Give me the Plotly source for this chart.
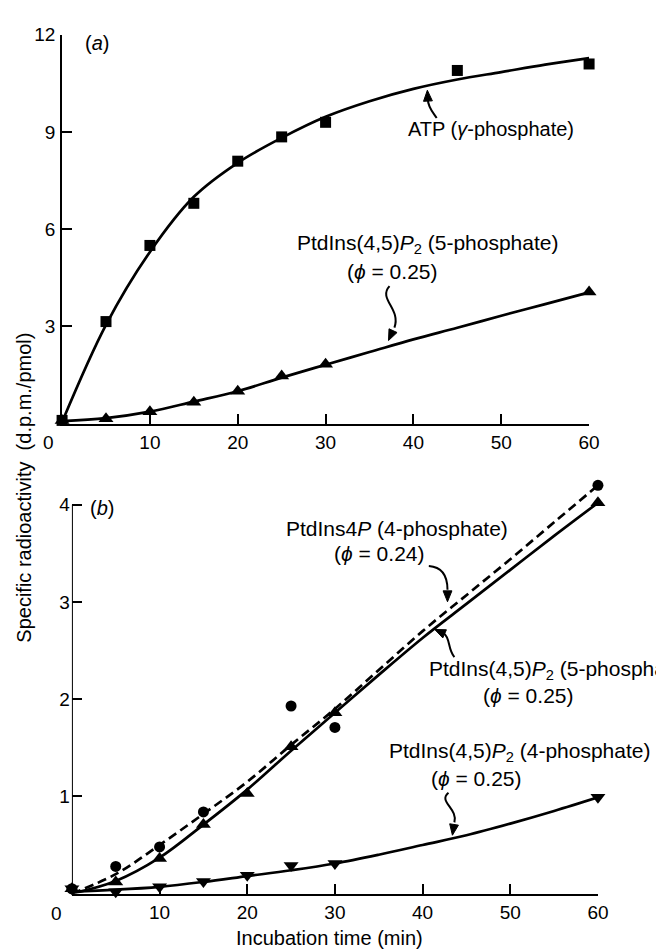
import math
import plotly.graph_objects as go

# ---------------- data ----------------
# Panel (a)
time_atp = [0, 5, 10, 15, 20, 25, 30, 45, 60]
atp_gamma = [0.1, 3.15, 5.5, 6.8, 8.1, 8.85, 9.3, 10.9, 11.1]
time_pip2_a = [0, 5, 10, 15, 20, 25, 30, 60]
pip2_5p_a = [0.1, 0.15, 0.37, 0.66, 1.0, 1.47, 1.83, 4.06]

# fitted curves (read at 5-min steps)
fit_time = [0, 5, 10, 15, 20, 25, 30, 35, 40, 45, 50, 55, 60]
atp_fit = [0.05, 3.05, 5.3, 7.0, 8.05, 8.82, 9.47, 9.95, 10.33, 10.62, 10.85, 11.08, 11.28]
pip2_5p_a_fit = [0.08, 0.17, 0.37, 0.68, 1.0, 1.42, 1.82, 2.21, 2.6, 2.96, 3.33, 3.69, 4.05]

# Panel (b)
time_pip4p = [0, 5, 10, 15, 25, 30, 60]
pip4p = [0.05, 0.28, 0.48, 0.84, 1.93, 1.71, 4.2]
time_b = [0, 5, 10, 15, 20, 25, 30, 60]
pip2_5p_b = [0.05, 0.12, 0.36, 0.71, 1.03, 1.51, 1.86, 4.02]
pip2_4p_b = [0.05, 0.02, 0.07, 0.125, 0.19, 0.29, 0.31, 0.99]

pip4p_fit = [0.0, 0.2, 0.5, 0.82, 1.15, 1.53, 1.9, 2.3, 2.7, 3.07, 3.44, 3.82, 4.2]
pip2_5p_b_fit = [0.0, 0.13, 0.37, 0.71, 1.07, 1.47, 1.86, 2.25, 2.63, 2.98, 3.33, 3.68, 4.02]
pip2_4p_b_fit = [0.02, 0.04, 0.07, 0.12, 0.18, 0.24, 0.31, 0.4, 0.5, 0.6, 0.72, 0.85, 0.99]

x_ticks = [10, 20, 30, 40, 50, 60]
y_ticks_a = [3, 6, 9, 12]
y_ticks_b = [1, 2, 3, 4]

# ---------------- layout geometry ----------------
# page body has an 8px margin, so the figure is drawn 8px in from the corner
OFF = 8
W, H = 664 - OFF, 950 - OFF
FONT = "Liberation Sans, Arial, Helvetica, sans-serif"


def px(x):
    return (x - OFF) / W


def py(y):
    return 1 - (y - OFF) / H


fig = go.Figure()

LW = 2.7
line_solid = dict(color="black", width=LW, shape="spline", smoothing=1.0)

# panel (a) curves
fig.add_trace(go.Scatter(x=fit_time, y=atp_fit, mode="lines", line=line_solid,
                         xaxis="x", yaxis="y", hoverinfo="skip"))
fig.add_trace(go.Scatter(x=fit_time, y=pip2_5p_a_fit, mode="lines", line=line_solid,
                         xaxis="x", yaxis="y", hoverinfo="skip"))
fig.add_trace(go.Scatter(x=time_atp, y=atp_gamma, mode="markers",
                         marker=dict(symbol="square", size=11, color="black"),
                         xaxis="x", yaxis="y", cliponaxis=False))
fig.add_trace(go.Scatter(x=time_pip2_a, y=pip2_5p_a, mode="markers",
                         marker=dict(symbol="triangle-up", size=13, color="black"),
                         xaxis="x", yaxis="y", cliponaxis=False))

# panel (b) curves
fig.add_trace(go.Scatter(x=fit_time, y=pip4p_fit, mode="lines",
                         line=dict(color="black", width=LW, dash="9px,5px", shape="spline"),
                         xaxis="x2", yaxis="y2", hoverinfo="skip"))
fig.add_trace(go.Scatter(x=fit_time, y=pip2_5p_b_fit, mode="lines", line=line_solid,
                         xaxis="x2", yaxis="y2", hoverinfo="skip"))
fig.add_trace(go.Scatter(x=fit_time, y=pip2_4p_b_fit, mode="lines", line=line_solid,
                         xaxis="x2", yaxis="y2", hoverinfo="skip"))
fig.add_trace(go.Scatter(x=time_pip4p, y=pip4p, mode="markers",
                         marker=dict(symbol="circle", size=11, color="black"),
                         xaxis="x2", yaxis="y2", cliponaxis=False))
fig.add_trace(go.Scatter(x=time_b, y=pip2_5p_b, mode="markers",
                         marker=dict(symbol="triangle-up", size=13, color="black"),
                         xaxis="x2", yaxis="y2", cliponaxis=False))
fig.add_trace(go.Scatter(x=time_b, y=pip2_4p_b, mode="markers",
                         marker=dict(symbol="triangle-down", size=13, color="black"),
                         xaxis="x2", yaxis="y2", cliponaxis=False))

tickfont = dict(family=FONT, size=19, color="black")
common_x = dict(range=[0, 60], showgrid=False, zeroline=False, showline=True,
                linecolor="black", linewidth=2, ticks="inside", ticklen=10,
                tickwidth=2, tickcolor="black", tickvals=x_ticks, tickfont=tickfont,
                ticklabelstandoff=1)
common_y = dict(showgrid=False, zeroline=False, ticks="inside", ticklen=10,
                tickwidth=2, tickcolor="black", tickfont=tickfont,
                ticklabelstandoff=1)

fig.update_layout(
    width=W, height=H,
    margin=dict(l=0, r=0, t=0, b=0),
    paper_bgcolor="white", plot_bgcolor="rgba(0,0,0,0)",
    showlegend=False,
    font=dict(family=FONT, size=20, color="black"),
    xaxis=dict(domain=[px(63), px(599)], anchor="y", **common_x),
    yaxis=dict(domain=[py(418), py(25)], range=[0, 12], anchor="x",
               showline=True, linecolor="black", linewidth=2,
               tickvals=y_ticks_a, **common_y),
    xaxis2=dict(domain=[px(73), px(608)], anchor="y2", **common_x),
    yaxis2=dict(domain=[py(893), py(893 - 4.25 * 98.25)], range=[0, 4.25], anchor="x2",
                showline=False, tickvals=y_ticks_b, **common_y),
)

# y axis line of panel (b) stops at 4
fig.add_shape(type="line", xref="x2", yref="y2", x0=0, x1=0, y0=0, y1=4,
              line=dict(color="black", width=2))


# ---------------- text ----------------
def text(x, y, s, size=20, **kw):
    fig.add_annotation(x=px(x), y=py(y), xref="paper", yref="paper", text=s,
                       showarrow=False, font=dict(family=FONT, size=size, color="black"),
                       xanchor=kw.get("xanchor", "center"), yanchor="middle",
                       textangle=kw.get("angle", 0))


text(99, 33, "(<i>a</i>)")
text(104, 503, "(<i>b</i>)")
text(49, 437, "0", size=19)
text(57, 913, "0", size=19)
text(499, 120, "ATP (<i>γ</i>-phosphate)")
text(300, 236, "PtdIns(4,5)<i>P</i><sub>2</sub> (5-phosphate)", size=21, xanchor="left")
text(399, 264, "(<i>ϕ</i> = 0.25)", size=21)
text(289, 524, "PtdIns4<i>P</i> (4-phosphate)", size=21, xanchor="left")
text(386, 549, "(<i>ϕ</i> = 0.24)", size=21)
text(434, 667, "PtdIns(4,5)<i>P</i><sub>2</sub> (5-phosphate)", size=21, xanchor="left")
text(537, 693, "(<i>ϕ</i> = 0.25)", size=21)
text(393, 750, "PtdIns(4,5)<i>P</i><sub>2</sub> (4-phosphate)", size=21, xanchor="left")
text(484, 777, "(<i>ϕ</i> = 0.25)", size=21)
text(24, 483, "Specific radioactivity  (d.p.m./pmol)", angle=-90)
text(335, 938, "Incubation time (min)")

# ---------------- curved leader arrows ----------------
# each: bezier (start, ctrl1, ctrl2, end) in page pixels, then the arrow tip
leaders = [
    ((444, 109), (440, 103), (435, 98), (435, 90), (434.5, 81)),
    ((396, 279), (384, 292), (408, 302), (401, 321), (395, 334)),
    ((436, 562), (450, 563), (455, 573), (455, 586), (455, 598)),
    ((462, 654), (455, 646), (458, 634), (451, 630), (442, 626)),
    ((456, 791), (445, 800), (466, 807), (462, 821), (460, 834)),
]


def P(x, y):
    return "{:.5f} {:.5f}".format(px(x), py(y))


for p0, c1, c2, p3, tip in leaders:
    path = "M {} C {}, {}, {}".format(P(*p0), P(*c1), P(*c2), P(*p3))
    fig.add_shape(type="path", xref="paper", yref="paper", path=path,
                  line=dict(color="black", width=2))
    # filled arrow head from the end of the curve to the tip
    dx, dy = tip[0] - p3[0], tip[1] - p3[1]
    n = math.hypot(dx, dy)
    ux, uy = dx / n, dy / n
    L, w = 11, 4.5
    bx, by = tip[0] - ux * L, tip[1] - uy * L
    head = "M {} L {} L {} Z".format(P(*tip), P(bx - uy * w, by + ux * w),
                                     P(bx + uy * w, by - ux * w))
    fig.add_shape(type="path", xref="paper", yref="paper", path=head,
                  fillcolor="black", line=dict(color="black", width=1))

fig.write_html("out.html")
